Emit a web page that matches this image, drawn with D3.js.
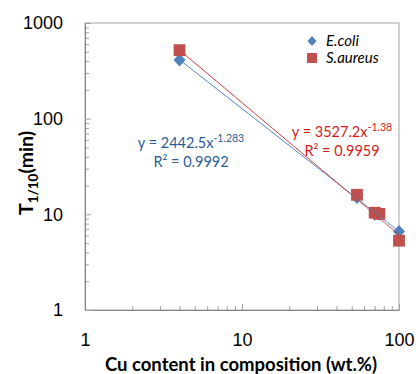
<!DOCTYPE html>
<html>
<head>
<meta charset="utf-8">
<script src="https://cdn.jsdelivr.net/npm/d3@7"></script>
<style>
  body { margin: 0; background: #fff; }
  svg { font-family: Lato, "Open Sans", sans-serif; }
</style>
</head>
<body>
<div id="chart"></div>
<script>
// data
var cuContent = [4, 54, 70, 75, 100];
var ecoli = [410, 15, 10, 10, 6.6];
var saureus = [520, 16, 10.4, 10.1, 5.3];
var seriesNames = ['E.coli', 'S.aureus'];
var xTicks = [1, 10, 100];
var yTicks = [1, 10, 100, 1000];
// power fits y = a * x^b
var fitA = [2442.5, 3527.2];
var fitB = [-1.283, -1.38];
var fitLabels = [['y = 2442.5x', '-1.283', 'R² = 0.9992'], ['y = 3527.2x', '-1.38', 'R² = 0.9959']];

var svgWidth = 416, svgHeight = 374;
var margin = { top: 23, right: 17, bottom: 64, left: 85 };
var width = svgWidth - margin.left - margin.right;
var height = svgHeight - margin.top - margin.bottom;

var blue = '#4F81BD', red = '#C0504D';

var svg = d3.select('#chart').append('svg')
    .attr('width', svgWidth)
    .attr('height', svgHeight);

var g = svg.append('g')
    .attr('transform', `translate(${margin.left},${margin.top})`);

var x = d3.scaleLog().domain([1, 100]).range([0, width]);
var y = d3.scaleLog().domain([1, 1000]).range([height, 0]);

// minor ticks 2..9 in each decade
function minors(lo, hi) {
    var out = [];
    for (var p = lo; p < hi; p *= 10)
        for (var k = 2; k < 10; k++) out.push(p * k);
    return out;
}

// plot border
g.append('rect')
    .attr('width', width).attr('height', height)
    .attr('fill', 'none').attr('stroke', '#A6A6A6');

var xMinor = g.append('g').attr('transform', `translate(0,${height})`)
    .call(d3.axisBottom(x).tickValues(minors(1, 100)).tickSize(-4).tickFormat(''));
var yMinor = g.append('g')
    .call(d3.axisLeft(y).tickValues(minors(1, 1000)).tickSize(-4).tickFormat(''));

var xAxis = g.append('g').attr('transform', `translate(0,${height})`)
    .call(d3.axisBottom(x).tickValues(xTicks).tickSizeInner(-6).tickSizeOuter(0)
        .tickPadding(23).tickFormat(d3.format('d')));
var yAxis = g.append('g')
    .call(d3.axisLeft(y).tickValues(yTicks).tickSizeInner(-6).tickSizeOuter(0)
        .tickPadding(22).tickFormat(d3.format('d')));

[xMinor, yMinor, xAxis, yAxis].forEach(function (a) {
    a.selectAll('.domain').attr('stroke', '#868686');
    a.selectAll('line').attr('stroke', '#A0A0A0');
});
xMinor.selectAll('.domain').remove();
yMinor.selectAll('.domain').remove();
xAxis.selectAll('text').attr('font-size', 18).attr('fill', '#000');
yAxis.selectAll('text').attr('font-size', 18).attr('fill', '#000');

// markers
var diamond = 'M0,-6.5L6,0L0,6.5L-6,0Z';
var square = d3.symbol().type(d3.symbolSquare).size(140);

g.selectAll('path.ecoli')
    .data(cuContent)
    .enter().append('path')
    .attr('class', 'ecoli')
    .attr('d', diamond)
    .attr('transform', (d, i) => `translate(${x(d)},${y(ecoli[i])})`)
    .attr('fill', blue);

g.selectAll('path.saureus')
    .data(cuContent)
    .enter().append('path')
    .attr('class', 'saureus')
    .attr('d', square)
    .attr('transform', (d, i) => `translate(${x(d)},${y(saureus[i])})`)
    .attr('fill', red);

// power trend lines
var fitColors = [blue, '#D03A3A'];
var xs = [];
for (var v = 4; v <= 100; v += 1) xs.push(v);
var line = d3.line().x(d => x(d[0])).y(d => y(d[1]));
[0, 1].forEach(function (s) {
    g.append('path')
        .datum(xs.map(v => [v, fitA[s] * Math.pow(v, fitB[s])]))
        .attr('d', line)
        .attr('fill', 'none')
        .attr('stroke', fitColors[s])
        .attr('stroke-width', 1);
});

// fit equations
var eqPos = [[191 - margin.left, 148 - margin.top], [342 - margin.left, 137 - margin.top]];
var eqColors = ['#2C5C98', '#D41C1C'];
[0, 1].forEach(function (s) {
    var t = g.append('text')
        .attr('x', eqPos[s][0]).attr('y', eqPos[s][1])
        .attr('text-anchor', 'middle')
        .attr('font-size', 14.5)
        .attr('fill', eqColors[s]);
    t.append('tspan').text(fitLabels[s][0]);
    t.append('tspan').attr('dy', -6).attr('font-size', 10.5).text(fitLabels[s][1]);
    g.append('text')
        .attr('x', eqPos[s][0]).attr('y', eqPos[s][1] + 19)
        .attr('text-anchor', 'middle')
        .attr('font-size', 14.5)
        .attr('fill', eqColors[s])
        .text(fitLabels[s][2]);
});

// legend
var legend = g.append('g').attr('transform', `translate(${312 - margin.left},${41 - margin.top})`);
legend.append('path').attr('d', 'M0,-5L4.5,0L0,5L-4.5,0Z').attr('fill', blue);
legend.append('path').attr('d', d3.symbol().type(d3.symbolSquare).size(100))
    .attr('transform', 'translate(0,17)').attr('fill', red);
seriesNames.forEach(function (n, i) {
    legend.append('text')
        .attr('x', 14).attr('y', i * 17 + 5)
        .attr('font-size', 15).attr('font-style', 'italic')
        .text(n);
});

// axis titles
svg.append('text')
    .attr('x', 241).attr('y', 371)
    .attr('text-anchor', 'middle')
    .attr('font-size', 18.5).attr('font-weight', 'bold')
    .text('Cu content in composition (wt.%)');

var yt = svg.append('text')
    .attr('transform', 'translate(33,173) rotate(-90)')
    .attr('text-anchor', 'middle')
    .attr('font-size', 19.5).attr('font-weight', 'bold');
yt.append('tspan').text('T');
yt.append('tspan').attr('dy', 5).attr('font-size', 13.5).text('1/10');
yt.append('tspan').attr('dy', -5).text('(min)');
</script>
</body>
</html>
